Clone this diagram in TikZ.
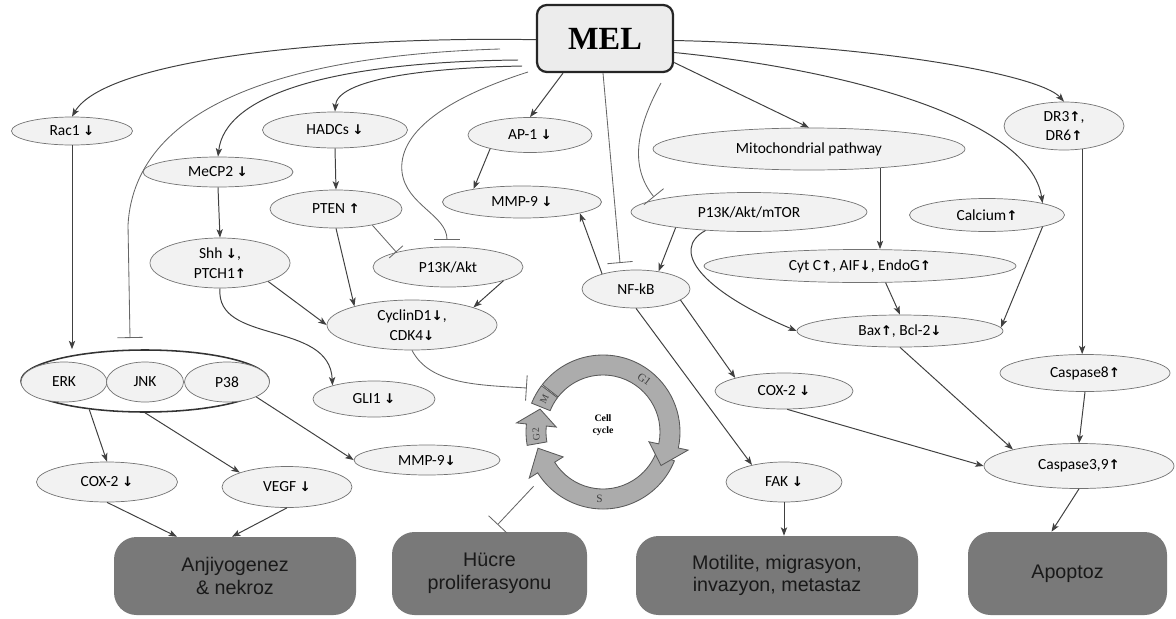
\documentclass[tikz,border=0pt]{standalone}
\usepackage{fontspec}
\setmainfont{Carlito}
\newfontfamily\tnr{Liberation Serif}
\newfontfamily\ari{Liberation Sans}
\newfontfamily\dvs{DejaVu Sans}
\usetikzlibrary{shapes.geometric,arrows.meta,calc}
\newcommand{\myup}{{\dvs\bfseries\fontsize{9.5}{9.5}\selectfont ↑}}
\newcommand{\mydn}{{\dvs\bfseries\fontsize{9.5}{9.5}\selectfont ↓}}
\begin{document}
\begin{tikzpicture}[x=0.025cm,y=-0.025cm,
  sz/.style 2 args={minimum width=#1*0.025cm, minimum height=#2*0.025cm},
  el/.style={ellipse, draw=black!55, line width=0.5pt, fill=gray!10, inner sep=0pt, align=center,
    font=\fontsize{11}{14}\selectfont, text=black},
  mel/.style={rectangle, rounded corners=7pt, draw=black!85, line width=1.6pt, fill=gray!15,
    font=\tnr\bfseries\fontsize{23}{23}\selectfont, inner sep=0pt},
  outbox/.style={rectangle, rounded corners=16pt, fill=gray!95!black, draw=none, inner sep=0pt, align=center,
    font=\ari\fontsize{14}{16}\selectfont, text=black!90},
  arr/.style={draw=black!75, line width=0.7pt, -{Stealth[length=6pt,width=4.5pt,inset=1.5pt]}},
  inh/.style={draw=black!60, line width=0.6pt, -{Bar[width=18pt]}},
  inhs/.style={draw=black!60, line width=0.6pt, -{Bar[width=13pt]}},
  ccar/.style={draw=black!65, line width=0.6pt, fill=gray!65},
  cclab/.style={font=\tnr\fontsize{8}{8}\selectfont, text=black!75, inner sep=0pt}]
\useasboundingbox (0,0) rectangle (1176,618);

% main node
\node[mel, sz={136}{67}] (MEL) at (605,38.5) {MEL};

% ellipses
\node[el, sz={121}{28}] (Rac1) at (72,131) {Rac1 \mydn};
\node[el, sz={150}{30}] (MeCP2) at (218,172) {MeCP2 \mydn};
\node[el, sz={145}{36}] (HADCs) at (335,130) {HADCs \mydn};
\node[el, sz={132}{38}] (PTEN) at (336,209) {PTEN \myup};
\node[el, sz={140}{50}] (Shh) at (220,263) {Shh \mydn,\\PTCH1\myup};
\node[el, sz={150}{40}] (PAkt) at (448,267) {P13K/Akt};
\node[el, sz={170}{50}] (Cyc) at (412,325) {CyclinD1\mydn,\\CDK4\mydn};
\node[el, sz={124}{35}] (AP1) at (530,135) {AP-1 \mydn};
\node[el, sz={159}{32}] (MMP9a) at (522,202) {MMP-9 \mydn};
\node[el, sz={312}{42}] (Mito) at (809,149) {Mitochondrial pathway};
\node[el, sz={236}{39}] (PAktm) at (749,212) {P13K/Akt/mTOR};
\node[el, sz={120}{48}] (DR) at (1064,126) {DR3\myup,\\DR6\myup};
\node[el, sz={155}{33}] (Calc) at (987,215) {Calcium\myup};
\node[el, sz={312}{33}] (Cyt) at (860,266) {Cyt C\myup, AIF\mydn, EndoG\myup};
\node[el, sz={206}{32}] (Bax) at (900,331) {Bax\myup, Bcl-2\mydn};
\node[el, sz={108}{38}] (NFkB) at (636,289) {NF-kB};
\node[el, sz={138}{36}] (COX2b) at (784,391) {COX-2 \mydn};
\node[el, sz={170}{37}] (Casp8) at (1085,373) {Caspase8\myup};
\node[el, sz={190}{45}] (Casp39) at (1079,466) {Caspase3,9\myup};
\node[el, sz={116}{40}] (FAK) at (784,482) {FAK \mydn};
\node[ellipse, draw=black!80, line width=1.1pt, fill=white, sz={248}{62}] (grp) at (145,381) {};
\node[el, sz={86}{40}] (ERK) at (64,382) {ERK};
\node[el, sz={77}{40}] (JNK) at (145,382) {JNK};
\node[el, sz={85}{40}] (P38) at (227,382) {P38};
\node[el, sz={141}{40}] (COX2a) at (107,482) {COX-2 \mydn};
\node[el, sz={130}{41}] (VEGF) at (287,487) {VEGF \mydn};
\node[el, sz={146}{30}] (MMP9b) at (427,460) {MMP-9\mydn};
\node[el, sz={122}{36}] (GLI1) at (374,399) {GLI1 \mydn};

% outcome boxes
\node[outbox, sz={242}{78}] (Anj) at (235,576) {Anjiyogenez\\\& nekroz};
\node[outbox, sz={195}{83}] (Hucre) at (489.5,573.5) {Hücre\\proliferasyonu};
\node[outbox, sz={282}{79}] (Mot) at (777,575.5) {Motilite, migrasyon,\\invazyon, metastaz};
\node[outbox, sz={199}{83}] (Apop) at (1067.5,573.5) {Apoptoz};

% cell cycle
\coordinate (cc) at (603,432);
\draw[ccar] ($(cc)+(22:77)$) arc[start angle=22, end angle=148, radius=77]
  -- ($(cc)+(148:87)$) -- ($(cc)+(166:67)$) -- ($(cc)+(148:47)$)
  -- ($(cc)+(148:57)$) arc[start angle=148, end angle=22, radius=57] -- cycle;
\draw[ccar] ($(cc)+(-142:77)$) arc[start angle=-142, end angle=12, radius=77]
  -- ($(cc)+(12:87)$) -- ($(cc)+(30:67)$) -- ($(cc)+(12:47)$)
  -- ($(cc)+(12:57)$) arc[start angle=12, end angle=-142, radius=57] -- cycle;
\draw[ccar] ($(cc)+(170:77)$) arc[start angle=170, end angle=186, radius=77]
  -- ($(cc)+(186:87)$) -- ($(cc)+(200:67)$) -- ($(cc)+(186:47)$)
  -- ($(cc)+(186:57)$) arc[start angle=186, end angle=170, radius=57] -- cycle;
\draw[ccar] ($(cc)+(202:77)$) arc[start angle=202, end angle=217, radius=77]
  -- ($(cc)+(217:57)$) arc[start angle=217, end angle=202, radius=57] -- cycle;
\node[cclab, rotate=-37] (lG1) at ($(cc)+(-52:67)$) {G1};
\node[cclab] (lS) at ($(cc)+(93:67)$) {S};
\node[cclab, rotate=95, font=\tnr\fontsize{7}{7}\selectfont] (lG2) at ($(cc)+(178:67)$) {G2};
\node[cclab, rotate=64, font=\tnr\fontsize{7}{7}\selectfont] (lM) at ($(cc)+(209:67)$) {M};
\node[font=\tnr\bfseries\fontsize{7}{8.5}\selectfont, align=center, inner sep=0pt] (cclabel) at (603,425) {Cell\\cycle};
\coordinate (ccA) at ($(cc)+(150:88)$);
\coordinate (ccB) at ($(cc)+(142:88)$);

% free ends
\coordinate (s1) at (500,49);
\coordinate (s2) at (518,60);
\coordinate (s3) at (522,66);
\coordinate (s4) at (528,72);
\coordinate (s5) at (661,83);
\coordinate (tERK) at (130,338);
\coordinate (tAkt) at (447,240);
\coordinate (tNF) at (620,263);
\coordinate (tPm) at (654,197);

% connectors from MEL
\draw[arr] (MEL.181) .. controls (330,36) and (105,60) .. (Rac1.north);
\draw[inh] (s1) .. controls (300,55) and (135,100) .. (128,225) -- (tERK);
\draw[arr] (s2) .. controls (330,62) and (225,95) .. (MeCP2.north);
\draw[arr] (s3) .. controls (420,68) and (337,80) .. (HADCs.north);
\draw[inh] (s4) .. controls (440,100) and (398,135) .. (402,172) .. controls (406,205) and (447,215) .. (tAkt);
\draw[arr] ($(MEL.south)+(-42,0)$) -- (AP1.north);
\draw[inh] ($(MEL.south)+(-2,0)$) -- (tNF);
\draw[inh] (s5) .. controls (638,125) and (628,165) .. (tPm);
\draw[arr] ($(MEL.east)+(0,24)$) -- (Mito.north);
\draw[arr] ($(MEL.east)+(0,14)$) .. controls (850,70) and (1030,120) .. (Calc.12);
\draw[arr] ($(MEL.east)+(0,2)$) .. controls (880,45) and (1040,75) .. (DR.north);

% other connectors
\draw[arr] (Rac1.south) -- (Rac1.south |- grp.north);
\draw[arr] (MeCP2.south) -- (Shh.north);
\draw[arr] (HADCs.south) -- (PTEN.north);
\draw[inhs] (PTEN.-24) -- (PAkt.164);
\draw[arr] (PTEN.south) -- (Cyc.162);
\draw[arr] (Shh.-21) -- (Cyc.west);
\draw[arr] (Shh.south) .. controls (215,345) and (330,320) .. (GLI1.162);
\draw[arr] (PAkt.-14) -- (Cyc.16);
\draw[arr] (AP1.199) -- (MMP9a.165);
\draw[arr] (NFkB.156) -- (MMP9a.-11);
\draw[arr] (PAktm.192) -- (NFkB.38);
\draw[arr] (PAktm.203) .. controls (670,250) and (700,290) .. (Bax.west);
\draw[arr] (Mito.-15) -- (Mito.-15 |- Cyt.north);
\draw[arr] (Cyt.-33) -- (Bax.north);
\draw[arr] (Calc.-12) -- (Bax.2);
\draw[arr] (DR.-52) -- (DR.-52 |- Casp8.north);
\draw[arr] (Casp8.south) -- (Casp39.north);
\draw[arr] (Bax.south) -- (Casp39.166);
\draw[arr] (COX2b.-80) -- (Casp39.west);
\draw[arr] (Casp39.south) -- ($(Apop.north)+(-16,0)$);
\draw[arr] (NFkB.-14) -- (COX2b.165);
\draw[arr] (NFkB.south) -- (FAK.152);
\draw[arr] (FAK.south) -- (FAK.south |- Mot.north);
\draw[arr] (grp.207) -- (COX2a.north);
\draw[arr] (grp.south) -- (VEGF.163);
\draw[arr] (P38.-27) -- (MMP9b.west);
\draw[arr] (COX2a.south) -- ($(Anj.north)+(-58,0)$);
\draw[arr] (VEGF.south) -- ($(Anj.north)+(-3,0)$);
\draw[inh] (Cyc.south) .. controls (430,385) and (480,385) .. ($(cc)+(-150:88)$);
\draw[inh] ($(cc)+(142:88)$) -- ($(Hucre.north)+(8,-7)$);
\end{tikzpicture}
\end{document}
